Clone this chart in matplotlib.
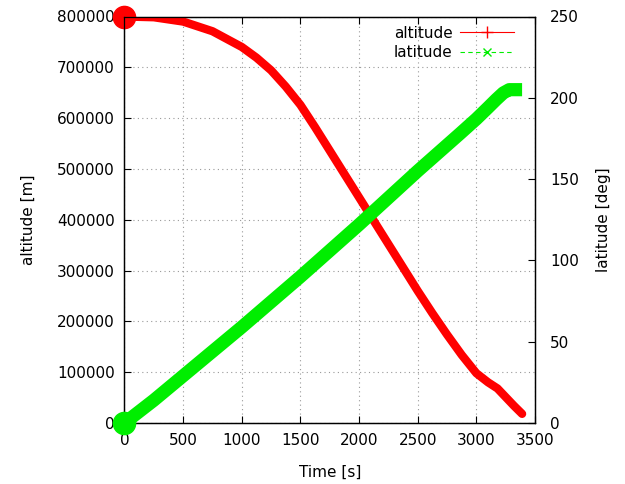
import matplotlib
matplotlib.use("Agg")
import matplotlib.pyplot as plt
from matplotlib.lines import Line2D

# Descent trajectory: altitude and latitude against time
alt_time = [0, 250, 500, 750, 1000, 1125, 1250, 1375, 1500, 1625, 1750, 1875,
            2000, 2125, 2250, 2375, 2500, 2625, 2750, 2875, 3000, 3100, 3180,
            3250, 3320, 3390]
altitude = [800000, 798500, 790000, 771000, 740000, 719000, 694000, 662000,
            626000, 582000, 536000, 490000, 444000, 398000, 352000, 306000,
            260000, 216000, 174000, 134000, 98000, 80000, 68000, 51000, 34000,
            18000]

lat_time = [0, 250, 500, 750, 1000, 1500, 2000, 2500, 2861, 3000, 3100,
            3170, 3230, 3280, 3390]
latitude = [0, 14, 29, 44, 59, 90, 122, 155, 178, 187, 194, 199, 203, 205, 205]

x_ticks = [0, 500, 1000, 1500, 2000, 2500, 3000, 3500]
alt_ticks = [0, 100000, 200000, 300000, 400000, 500000, 600000, 700000, 800000]
lat_ticks = [0, 50, 100, 150, 200, 250]

RED = "#ff0000"
GREEN = "#00ee00"
FS = 11

plt.rcParams["font.family"] = ["DejaVu Sans"]

fig = plt.figure(figsize=(6.25, 4.84), dpi=100)
fig.patch.set_facecolor("white")
ax = fig.add_axes([124.5 / 625, 1 - 423 / 484, (535 - 124.5) / 625, (423 - 16.5) / 484])
ax2 = ax.twinx()

ax.set_xlim(0, 3500)
ax.set_ylim(0, 800000)
ax2.set_ylim(0, 250)

# thick traces
ax.plot(alt_time, altitude, color=RED, lw=6, solid_capstyle="round",
        solid_joinstyle="round", zorder=3)
ax.plot(alt_time[:1], altitude[:1], "o", color=RED, ms=16, clip_on=False, zorder=4)
ax2.plot(lat_time, latitude, color=GREEN, lw=9.5, solid_capstyle="butt",
         solid_joinstyle="round", zorder=3)
ax2.plot(lat_time[:1], latitude[:1], "o", color=GREEN, ms=16, clip_on=False, zorder=4)

# grid
ax.grid(True, color="#999999", linestyle=(0, (1, 3)), linewidth=0.8)
ax.set_axisbelow(True)

ax.set_xticks(x_ticks)
ax.set_yticks(alt_ticks)
ax.set_xticklabels([str(v) for v in x_ticks], fontsize=FS)
ax.set_yticklabels([str(v) for v in alt_ticks], fontsize=FS)
ax2.set_yticks(lat_ticks)
ax2.set_yticklabels([str(v) for v in lat_ticks], fontsize=FS)

ax.tick_params(axis="x", direction="in", length=5, width=0.8, top=True, pad=7, colors="black")
ax.tick_params(axis="y", direction="in", length=5, width=0.8, right=False, pad=7)
ax2.tick_params(axis="y", direction="in", length=5, width=0.8, pad=11)

for a in (ax, ax2):
    for s in a.spines.values():
        s.set_linewidth(0.9)
        s.set_color("black")

ax.set_xlabel("Time [s]", fontsize=FS, labelpad=12)
ax.set_ylabel("altitude [m]", fontsize=FS, labelpad=15)
ax2.set_ylabel("latitude [deg]", fontsize=FS, labelpad=12)

handles = [
    Line2D([], [], color=RED, lw=0.8, marker="+", ms=8, markevery=[1],
           label="altitude"),
    Line2D([], [], color=GREEN, lw=0.8, ls=(0, (4, 3)), marker="x", ms=6,
           markevery=[1], label="latitude"),
]
for h in handles:
    h.set_data([0, 0.5, 1], [0, 0, 0])
leg = ax.legend(handles=handles, loc="upper right", frameon=False, fontsize=FS,
                markerfirst=False, handlelength=3.5, handletextpad=0.5,
                labelspacing=0.3, borderaxespad=0.2, bbox_to_anchor=(0.97, 1.0))
leg.set_zorder(10)

fig.savefig("out.png", dpi=100, facecolor="white")
